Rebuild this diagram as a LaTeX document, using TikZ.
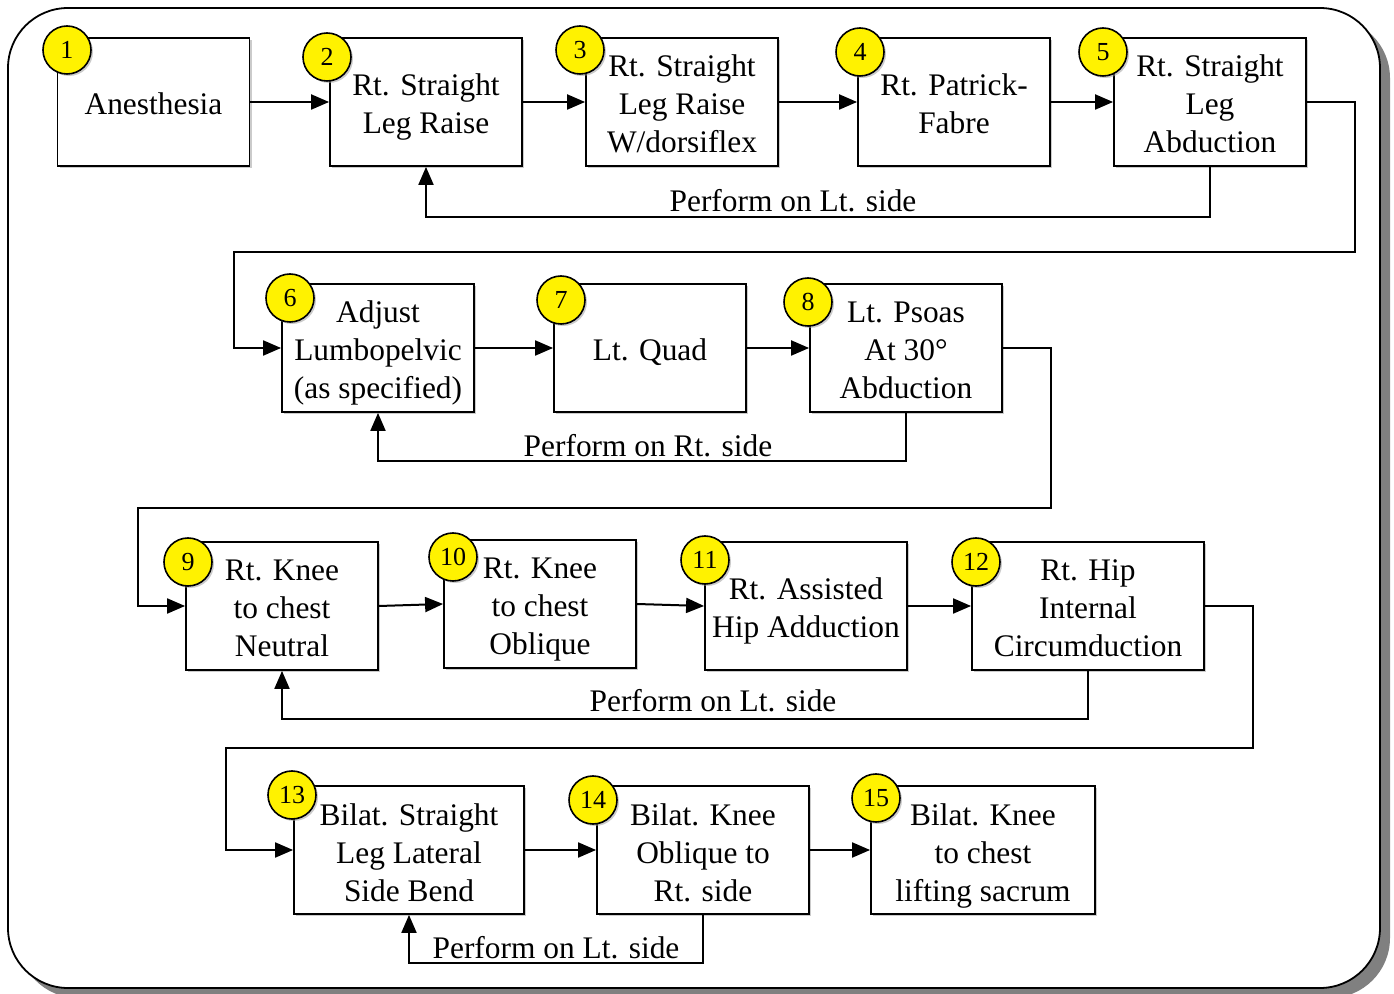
\documentclass[tikz,border=0pt]{standalone}
\usepackage{fontspec}
\setmainfont{Liberation Serif}
\usetikzlibrary{arrows.meta,positioning,calc,shadows}
\newcommand{\boxtop}{\rule{0pt}{13pt}}

\begin{document}
\begin{tikzpicture}[x=0.5pt, y=-0.5pt, >={Triangle[length=9pt,width=7.5pt]},
    stepbox/.style={draw, line width=0.9pt, fill=white, align=center,
        minimum width=96pt, minimum height=64pt, inner sep=1pt,
        font=\fontsize{15.7}{19}\selectfont, text depth=0pt,
        drop shadow={shadow xshift=1pt, shadow yshift=-1pt, fill=black!40}},
    num/.style={circle, draw, line width=0.8pt, fill=yellow, minimum size=24pt,
        inner sep=0pt, font=\fontsize{13}{15}\selectfont,
        drop shadow={shadow xshift=1pt, shadow yshift=-1pt, fill=black!40}},
    arr/.style={->, line width=1pt},
    lbl/.style={inner sep=0pt, font=\fontsize{15.7}{19}\selectfont}]
    \useasboundingbox (0,0) rectangle (1394,994);

    % Frame
    \draw[line width=0.9pt, rounded corners=30pt, fill=white,
        drop shadow={shadow xshift=5pt, shadow yshift=-5pt, fill=gray, opacity=1}]
        (8,8) rectangle (1380,988);

    % Row 1
    \node[stepbox] (b1) at (153.5,102) {\boxtop Anesthesia};
    \node[stepbox] (b2) at (426,102) {\boxtop Rt. Straight\\Leg Raise};
    \node[stepbox] (b3) at (682,102) {\boxtop Rt. Straight\\Leg Raise\\W/dorsiflex};
    \node[stepbox] (b4) at (954,102) {\boxtop Rt. Patrick-\\Fabre};
    \node[stepbox] (b5) at (1210,102) {\boxtop Rt. Straight\\Leg\\Abduction};

    % Row 2
    \node[stepbox] (b6) at (378,348) {\boxtop Adjust\\Lumbopelvic\\(as specified)};
    \node[stepbox] (b7) at (650,348) {\boxtop Lt. Quad};
    \node[stepbox] (b8) at (906,348) {\boxtop Lt. Psoas\\At 30°\\Abduction};

    % Row 3
    \node[stepbox] (b9) at (282,606) {\boxtop Rt. Knee\\to chest\\Neutral};
    \node[stepbox] (b10) at (540,604) {\boxtop Rt. Knee\\to chest\\Oblique};
    \node[stepbox, minimum width=101pt] (b11) at (806,606) {\boxtop Rt. Assisted\\Hip Adduction};
    \node[stepbox, minimum width=116pt] (b12) at (1088,606) {\boxtop Rt. Hip\\Internal\\Circumduction};

    % Row 4
    \node[stepbox, minimum width=115pt] (b13) at (409,850) {\boxtop Bilat. Straight\\Leg Lateral\\Side Bend};
    \node[stepbox, minimum width=106pt] (b14) at (703,850) {\boxtop Bilat. Knee\\Oblique to\\Rt. side};
    \node[stepbox, minimum width=112pt] (b15) at (983,850) {\boxtop Bilat. Knee\\to chest\\lifting sacrum};

    % Step numbers
    \foreach \n/\x/\y in {1/67/50, 2/327/57, 3/580/50, 4/860/52, 5/1103/52,
        6/290/298, 7/561/300, 8/808/302, 9/188/562, 10/453/557, 11/705/560,
        12/976/562, 13/292/795, 14/593/800, 15/876/798} {
        \node[num] (c\n) at (\x,\y) {\n};
    }

    % Forward arrows
    \foreach \a/\b in {b1/b2, b2/b3, b3/b4, b4/b5, b6/b7, b7/b8,
        b9/b10, b10/b11, b11/b12, b13/b14, b14/b15} {
        \draw[arr] (\a.east) -- (\b.west);
    }

    % Row changes
    \coordinate (k1) at (234,252);
    \coordinate (k2) at (138,508);
    \coordinate (k3) at (226,748);
    \draw[arr] (b5.east) -- ++(48,0) |- (k1) |- (b6.west);
    \draw[arr] (b8.east) -- ++(48,0) |- (k2) |- (b9.west);
    \draw[arr] (b12.east) -- ++(48,0) |- (k3) |- (b13.west);

    % Repeat on other side
    \draw[arr] (b5.south) -- ++(0,50) -| (b2.south);
    \draw[arr] (b8.south) -- ++(0,48) -| (b6.south);
    \draw[arr] (b12.south) -- ++(0,48) -| (b9.south);
    \draw[arr] (b14.south) -- ++(0,48) -| (b13.south);
    \node[lbl] (t1) at (793,201) {Perform on Lt. side};
    \node[lbl] (t2) at (648,446) {Perform on Rt. side};
    \node[lbl] (t3) at (713,701) {Perform on Lt. side};
    \node[lbl] (t4) at (556,948) {Perform on Lt. side};

\end{tikzpicture}
\end{document}
